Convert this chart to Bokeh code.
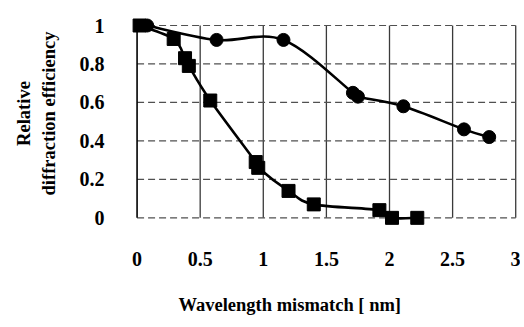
import numpy as np
from bokeh.plotting import figure
from bokeh.models import Range1d, FixedTicker, Title
from bokeh.embed import file_html
from bokeh.resources import INLINE

# ---- data ----
circle_x = [0.08, 0.63, 1.16, 1.71, 1.75, 2.11, 2.59, 2.79]
circle_y = [1.00, 0.925, 0.925, 0.65, 0.63, 0.58, 0.46, 0.42]

square_x = [0.02, 0.29, 0.38, 0.41, 0.58, 0.94, 0.96, 1.20, 1.40, 1.92, 2.02, 2.22]
square_y = [1.00, 0.93, 0.83, 0.79, 0.61, 0.29, 0.26, 0.14, 0.07, 0.04, 0.00, 0.00]

x_ticks = [0, 0.5, 1, 1.5, 2, 2.5, 3]
x_tick_labels = ["0", "0.5", "1", "1.5", "2", "2.5", "3"]
y_ticks = [0, 0.2, 0.4, 0.6, 0.8, 1.0]
y_tick_labels = ["0", "0.2", "0.4", "0.6", "0.8", "1"]

x_title = "Wavelength mismatch [ nm]"
y_title = "Relative\ndiffraction efficiency"

FONT = "Liberation Serif"


def smooth_segments(xs, ys):
    """Bezier control points for a smoothed line through the data points."""
    pts = np.column_stack([xs, ys]).astype(float)
    n = len(pts)
    segs = {k: [] for k in ("x0", "y0", "x1", "y1", "cx0", "cy0", "cx1", "cy1")}
    for i in range(n - 1):
        p0, p1 = pts[i], pts[i + 1]
        pm = pts[i - 1] if i > 0 else p0
        p2 = pts[i + 2] if i + 2 < n else p1
        c1 = p0 + (p1 - pm) / 6.0
        c2 = p1 - (p2 - p0) / 6.0
        segs["x0"].append(p0[0]); segs["y0"].append(p0[1])
        segs["x1"].append(p1[0]); segs["y1"].append(p1[1])
        segs["cx0"].append(c1[0]); segs["cy0"].append(c1[1])
        segs["cx1"].append(c2[0]); segs["cy1"].append(c2[1])
    return segs


p = figure(width=520, height=327, output_backend="svg", toolbar_location=None,
           title=None,
           x_range=Range1d(-0.06, 3.03), y_range=Range1d(-0.045, 1.13),
           min_border_left=129, min_border_right=1, min_border_top=0,
           min_border_bottom=101)
p.outline_line_color = None
p.background_fill_color = "white"
p.border_fill_color = "white"
p.xgrid.visible = False
p.ygrid.visible = False

# grid lines
p.segment(x0=x_ticks[1:], y0=y_ticks[0], x1=x_ticks[1:], y1=y_ticks[-1],
          line_color="#3a3a3a", line_width=1.3)
p.segment(x0=x_ticks[0], y0=y_ticks, x1=x_ticks[-1], y1=y_ticks,
          line_color="#505050", line_width=1.2, line_dash="7 4")
# left axis line
p.segment(x0=x_ticks[0], y0=y_ticks[0], x1=x_ticks[0], y1=y_ticks[-1],
          line_color="black", line_width=1.6)

# curves
for xs, ys in ((square_x, square_y), (circle_x, circle_y)):
    s = smooth_segments(xs, ys)
    p.bezier(**s, line_color="black", line_width=2.6)

p.scatter(square_x, square_y, marker="square", size=13, color="black")
p.scatter(circle_x, circle_y, marker="circle", size=13, color="black")


def style_axis(ax):
    ax.axis_line_color = None
    ax.major_tick_line_color = None
    ax.minor_tick_line_color = None
    ax.major_tick_out = 0
    ax.major_tick_in = 0
    ax.minor_tick_out = 0
    ax.minor_tick_in = 0
    ax.major_label_text_font = FONT
    ax.major_label_text_font_style = "bold"
    ax.major_label_text_font_size = "20px"
    ax.major_label_text_color = "black"
    ax.axis_label_text_font = FONT
    ax.axis_label_text_font_style = "bold"
    ax.axis_label_text_font_size = "18.5px"
    ax.axis_label_text_color = "black"


style_axis(p.xaxis[0])
style_axis(p.yaxis[0])

p.xaxis.ticker = FixedTicker(ticks=x_ticks)
p.xaxis.major_label_overrides = {t: l for t, l in zip(x_ticks, x_tick_labels)}
p.xaxis.major_label_standoff = 25

p.yaxis.ticker = FixedTicker(ticks=y_ticks)
p.yaxis.major_label_overrides = {t: l for t, l in zip(y_ticks, y_tick_labels)}
p.yaxis.major_label_standoff = 25
p.yaxis.axis_label = y_title
p.yaxis.axis_label_text_line_height = 1.25
p.yaxis.axis_label_standoff = 18

# x title: a leading blank line pushes the text lower, as in the original
xt = Title(text="\n" + x_title, align="left", offset=49,
           text_font=FONT, text_font_style="bold", text_font_size="18.5px",
           text_line_height=1.0, text_color="black", standoff=9)
p.add_layout(xt, "below")

open("out.html", "w").write(file_html(p, INLINE))
